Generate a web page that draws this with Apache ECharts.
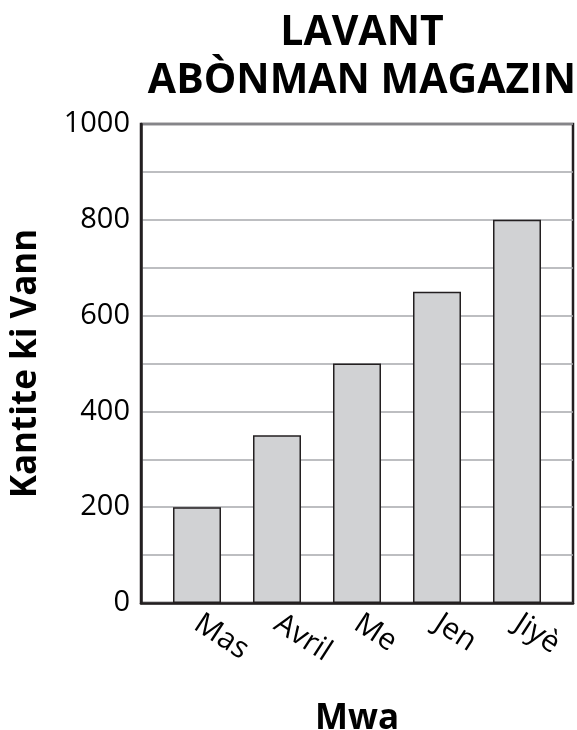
<!DOCTYPE html>
<html><head><meta charset="utf-8">
<script src="https://cdn.jsdelivr.net/npm/echarts@6/dist/echarts.min.js"></script>
<style>html,body{margin:0;padding:0;background:#fff}#c{width:577px;height:730px}</style>
</head><body><div id="c"></div>
<script>
var titleLines = ['LAVANT', 'ABÒNMAN MAGAZIN'];
var categories = ['Mas', 'Avril', 'Me', 'Jen', 'Jiyè'];
var sales = [200, 350, 500, 650, 800];
var yMin = 0, yMax = 1000, yStep = 100, yLabelStep = 200;
var xName = 'Mwa', yName = 'Kantite ki Vann';

var FONT = '"Open Sans", "Noto Sans", sans-serif';
var INK = '#231f20';
var chart = echarts.init(document.getElementById('c'), null, {renderer: 'canvas'});
chart.setOption({
  animation: false,
  backgroundColor: '#fff',
  title: {
    text: titleLines.join('\n'),
    left: 357, top: 4, textAlign: 'center',
    textStyle: {fontFamily: FONT, fontWeight: 'bold', fontSize: 41, lineHeight: 48, color: '#000'}
  },
  grid: [
    {left: 141, right: 4, top: 124, bottom: 127, show: true, borderColor: INK, borderWidth: 2.5,
     backgroundColor: 'transparent', containLabel: false, outerBoundsMode: 'none'},
    {left: 157, right: 20, top: 124, bottom: 127, containLabel: false, outerBoundsMode: 'none'}
  ],
  xAxis: [
    {gridIndex: 0, type: 'value', min: 0, max: 1, show: true,
     axisLine: {show: true, lineStyle: {color: INK, width: 2.5}}, axisTick: {show: false},
     axisLabel: {show: false}, splitLine: {show: false},
     name: xName, nameLocation: 'middle', nameGap: 99,
     nameTextStyle: {fontFamily: FONT, fontWeight: 'bold', fontSize: 35, color: '#000'}},
    {gridIndex: 1, type: 'category', data: categories,
     axisLine: {show: false}, axisTick: {show: false},
     axisLabel: {rotate: -33, margin: 18, fontFamily: FONT, fontSize: 30, color: '#000'}}
  ],
  yAxis: [
    {gridIndex: 0, type: 'value', min: yMin, max: yMax, interval: yStep,
     axisLine: {show: true, lineStyle: {color: INK, width: 2.5}}, axisTick: {show: false},
     axisLabel: {margin: 11, fontFamily: FONT, fontSize: 29, color: '#000',
       formatter: function (v) { return v % yLabelStep === 0 ? String(v) : ''; }},
     splitLine: {show: true, lineStyle: {color: '#a7a9ac', width: 1.5}},
     name: yName, nameLocation: 'middle', nameGap: 97,
     nameTextStyle: {fontFamily: FONT, fontWeight: 'bold', fontSize: 35, color: '#000'}},
    {gridIndex: 1, type: 'value', min: yMin, max: yMax, show: false, splitLine: {show: false}}
  ],
  series: [{
    type: 'bar', xAxisIndex: 1, yAxisIndex: 1, data: sales, barWidth: 48,
    itemStyle: {color: '#d1d2d4', borderColor: INK, borderWidth: 1.5}
  }]
});
</script></body></html>
